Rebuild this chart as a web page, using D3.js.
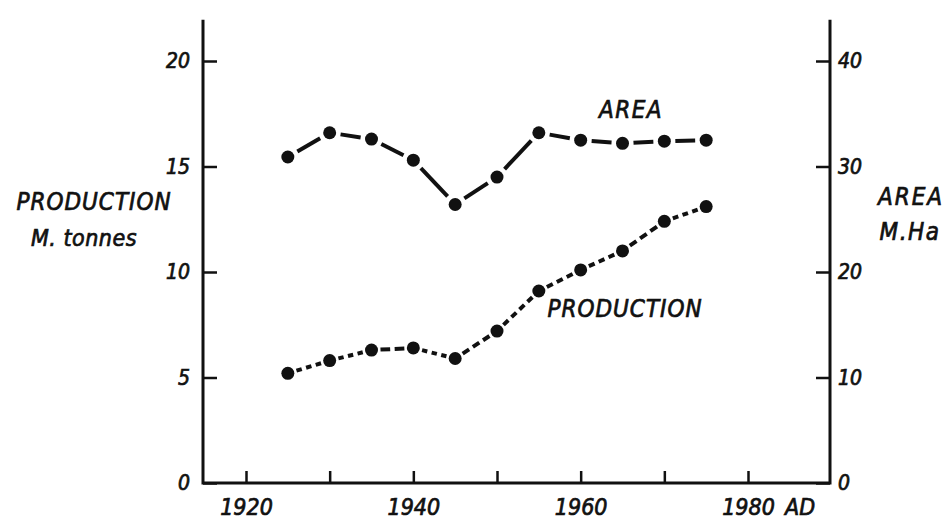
<!DOCTYPE html>
<html>
<head>
<meta charset="utf-8">
<script src="https://cdn.jsdelivr.net/npm/d3@7"></script>
<style>
  body { margin: 0; background: #fff; }
  svg text { font-family: "DejaVu Sans Condensed", "DejaVu Sans", sans-serif; font-style: italic; fill: #111; stroke: #111; stroke-width: 0.7px; }
</style>
</head>
<body>
<svg width="951" height="520"></svg>
<script>
// data
var years = [1925, 1930, 1935, 1940, 1945, 1950, 1955, 1960, 1965, 1970, 1975];
var area = [30.9, 33.2, 32.6, 30.6, 26.4, 29.0, 33.2, 32.5, 32.2, 32.4, 32.5];          // M.Ha, right axis
var production = [5.2, 5.8, 6.3, 6.4, 5.9, 7.2, 9.1, 10.1, 11.0, 12.4, 13.1];       // M. tonnes, left axis
var xTicks = [1920, 1930, 1940, 1950, 1960, 1970, 1980];
var xLabels = [1920, 1940, 1960, 1980];
var leftTicks = [0, 5, 10, 15, 20];
var rightTicks = [0, 10, 20, 30, 40];

var svg = d3.select("svg");
var ink = "#111";

var axisLeftX = 203, axisRightX = 830, axisBottomY = 483;

var x = d3.scaleLinear().domain([1920, 1980]).range([246, 748]);
var yL = d3.scaleLinear().domain([0, 20]).range([axisBottomY, 61]);
var yR = d3.scaleLinear().domain([0, 40]).range([axisBottomY, 61]);

// frame lines (left, bottom, right)
svg.append("path")
  .attr("d", "M" + axisLeftX + "," + yL(21.95) + "V" + axisBottomY + "H" + axisRightX + "V" + yL(21.95))
  .attr("fill", "none").attr("stroke", ink).attr("stroke-width", 3);

function styleAxis(size) {
  return function(g) {
    g.select(".domain").remove();
    g.selectAll(".tick line").attr("stroke", ink).attr("stroke-width", 2.5);
    g.selectAll(".tick text").attr("fill", ink)
      .style("font-size", size + "px")
      .attr("font-family", null);
  };
}

svg.append("g")
  .attr("transform", "translate(" + axisLeftX + ",0)")
  .call(d3.axisLeft(yL).tickValues(leftTicks).tickSize(-14).tickPadding(13))
  .call(styleAxis(21));

svg.append("g")
  .attr("transform", "translate(" + axisRightX + ",0)")
  .call(d3.axisRight(yR).tickValues(rightTicks).tickSize(-14).tickPadding(8))
  .call(styleAxis(21));

var xAxisG = svg.append("g")
  .attr("transform", "translate(0," + axisBottomY + ")")
  .call(d3.axisBottom(x).tickValues(xTicks).tickSize(-12).tickPadding(16)
    .tickFormat(function(d) { return xLabels.indexOf(d) >= 0 ? d : ""; }))
  .call(styleAxis(23));

xAxisG.append("text")
  .attr("x", x(1980) + 37).attr("y", 16).attr("dy", "0.71em")
  .attr("text-anchor", "start")
  .style("font-size", "23px")
  .text("AD");

// each segment between two dots, trimmed so the line stops short of the dots
function segments(vals, yScale) {
  var pts = years.map(function(yr, i) { return [x(yr), yScale(vals[i])]; });
  var out = [];
  for (var i = 0; i < pts.length - 1; i++) out.push([pts[i], pts[i + 1]]);
  return { pts: pts, segs: out };
}

function drawSeries(vals, yScale, trim, dash, gap, r) {
  var s = segments(vals, yScale);
  var g = svg.append("g");
  g.selectAll("line").data(s.segs).enter().append("line")
    .each(function(d) {
      var dx = d[1][0] - d[0][0], dy = d[1][1] - d[0][1];
      var len = Math.sqrt(dx * dx + dy * dy);
      var ux = dx / len, uy = dy / len;
      var l = len - 2 * trim;
      var el = d3.select(this)
        .attr("x1", d[0][0] + ux * trim).attr("y1", d[0][1] + uy * trim)
        .attr("x2", d[1][0] - ux * trim).attr("y2", d[1][1] - uy * trim);
      if (dash) {
        var n = Math.max(2, Math.round((l + gap) / (dash + gap)));
        var dl = (l - (n - 1) * gap) / n;
        el.attr("stroke-dasharray", dl + "," + gap);
      }
    })
    .attr("stroke", ink).attr("stroke-width", 4).attr("stroke-linecap", "butt");
  g.selectAll("circle").data(s.pts).enter().append("circle")
    .attr("cx", function(d) { return d[0]; })
    .attr("cy", function(d) { return d[1]; })
    .attr("r", r).attr("fill", ink);
}

drawSeries(area, yR, 11, 0, 0, 6.5);
drawSeries(production, yL, 9, 7, 4.5, 6.5);

// series labels
svg.append("text").attr("x", 631).attr("y", 118).attr("text-anchor", "middle")
  .style("font-size", "24px").style("letter-spacing", "1.5px").text("AREA");
svg.append("text").attr("x", 625).attr("y", 317).attr("text-anchor", "middle")
  .style("font-size", "24px").style("letter-spacing", "1px").text("PRODUCTION");

// axis titles
svg.append("text").attr("x", 94).attr("y", 210).attr("text-anchor", "middle")
  .style("font-size", "24px").style("letter-spacing", "1px").text("PRODUCTION");
svg.append("text").attr("x", 84).attr("y", 246).attr("text-anchor", "middle")
  .style("font-size", "23px").style("letter-spacing", "0.5px").text("M. tonnes");
svg.append("text").attr("x", 911).attr("y", 205).attr("text-anchor", "middle")
  .style("font-size", "24px").style("letter-spacing", "2px").text("AREA");
svg.append("text").attr("x", 910).attr("y", 240).attr("text-anchor", "middle")
  .style("font-size", "24px").style("letter-spacing", "1.5px").text("M.Ha");
</script>
</body>
</html>
